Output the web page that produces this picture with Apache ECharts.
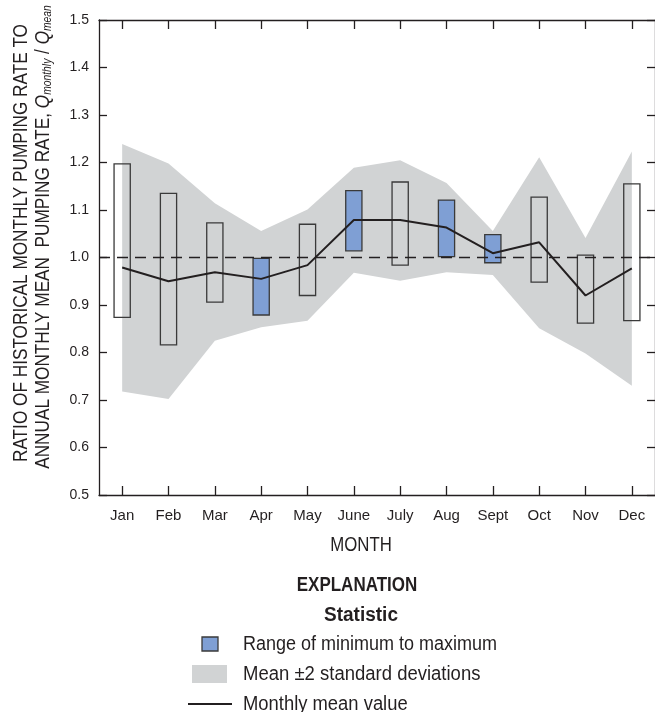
<!DOCTYPE html>
<html>
<head>
<meta charset="utf-8">
<script src="https://cdn.jsdelivr.net/npm/echarts@6/dist/echarts.min.js"></script>
<style>
  html, body { margin: 0; padding: 0; background: #ffffff; }
  #chart { width: 655px; height: 712px; }
</style>
</head>
<body>
<div id="chart"></div>
<script>
// Monthly pumping-rate ratios, Q_monthly / Q_mean
const months = ['Jan', 'Feb', 'Mar', 'Apr', 'May', 'June', 'July', 'Aug', 'Sept', 'Oct', 'Nov', 'Dec'];
const meanValue = [0.979, 0.950, 0.969, 0.955, 0.984, 1.079, 1.079, 1.063, 1.009, 1.032, 0.920, 0.977];
const sdUpper = [1.239, 1.198, 1.114, 1.056, 1.101, 1.189, 1.205, 1.157, 1.056, 1.211, 1.041, 1.223];
const sdLower = [0.718, 0.702, 0.825, 0.853, 0.867, 0.968, 0.951, 0.969, 0.963, 0.851, 0.798, 0.730];
const rangeMax = [1.197, 1.135, 1.073, 0.998, 1.070, 1.141, 1.159, 1.121, 1.048, 1.127, 1.005, 1.155];
const rangeMin = [0.874, 0.816, 0.906, 0.879, 0.920, 1.014, 0.984, 1.002, 0.989, 0.948, 0.862, 0.867];
const shadedMonths = ['Apr', 'June', 'Aug', 'Sept'];
const referenceRatio = 1.0;

const INK = '#231f20';
const BOX_EDGE = '#3a3a3a';
const BLUE = '#7f9fd4';
const GRAY = '#d1d3d4';
const FONT = 'Liberation Sans, Arial, sans-serif';

const chart = echarts.init(document.getElementById('chart'), null, { renderer: 'canvas' });

const bandWidth = sdUpper.map((u, i) => u - sdLower[i]);
const boxData = months.map((m, i) => [i, rangeMin[i], rangeMax[i], shadedMonths.includes(m) ? 1 : 0]);

const axisLineStyle = { color: INK, width: 1.3 };
const tickStyle = { color: INK, width: 1.3 };

// condensed-looking text: horizontally squeezed graphic text
function label(text, x, y, opts) {
  return Object.assign({
    type: 'text', x: x, y: y, scaleX: 0.9,
    style: Object.assign({
      text: text, font: '20px ' + FONT, fill: INK, align: 'left', verticalAlign: 'middle'
    }, opts && opts.style)
  }, opts && opts.el);
}

const option = {
  animation: false,
  backgroundColor: '#ffffff',
  grid: { left: 99, top: 20, width: 556, height: 475, containLabel: false },
  xAxis: [
    {
      type: 'category', data: months, position: 'bottom', boundaryGap: true,
      axisLine: { show: true, lineStyle: axisLineStyle },
      axisTick: { show: true, alignWithLabel: true, inside: true, length: 9, lineStyle: tickStyle },
      axisLabel: { color: INK, fontSize: 15, fontFamily: FONT, margin: 13 },
      splitLine: { show: false }
    },
    {
      type: 'category', data: months, position: 'top', boundaryGap: true,
      axisLine: { show: true, lineStyle: axisLineStyle },
      axisTick: { show: true, alignWithLabel: true, inside: true, length: 9, lineStyle: tickStyle },
      axisLabel: { show: false },
      splitLine: { show: false }
    }
  ],
  yAxis: [
    {
      type: 'value', position: 'left', min: 0.5, max: 1.5, interval: 0.1,
      axisLine: { show: true, lineStyle: axisLineStyle },
      axisTick: { show: true, inside: true, length: 8, lineStyle: tickStyle },
      axisLabel: { color: INK, fontSize: 14, fontFamily: FONT, margin: 10, formatter: v => v.toFixed(1) },
      splitLine: { show: false }
    },
    {
      type: 'value', position: 'right', min: 0.5, max: 1.5, interval: 0.1,
      axisLine: { show: true, lineStyle: axisLineStyle },
      axisTick: { show: true, inside: true, length: 8, lineStyle: tickStyle },
      axisLabel: { show: false },
      splitLine: { show: false }
    }
  ],
  series: [
    {
      name: 'sd-lower', type: 'line', stack: 'sd', data: sdLower,
      symbol: 'none', lineStyle: { opacity: 0 }, silent: true, z: 1
    },
    {
      name: 'Mean ±2 standard deviations', type: 'line', stack: 'sd', data: bandWidth,
      symbol: 'none', lineStyle: { width: 0, opacity: 0 },
      areaStyle: { color: GRAY, opacity: 1 }, silent: true, z: 1,
      markLine: {
        silent: true, symbol: 'none', label: { show: false },
        lineStyle: { color: INK, type: [11, 7], width: 1.3 },
        data: [{ yAxis: referenceRatio }]
      }
    },
    {
      name: 'Range of minimum to maximum', type: 'custom', data: boxData,
      encode: { x: 0, y: [1, 2] }, z: 3,
      renderItem: function (params, api) {
        const i = api.value(0);
        const top = api.coord([i, api.value(2)]);
        const bot = api.coord([i, api.value(1)]);
        const w = api.size([1, 0])[0] * 0.35;
        return {
          type: 'rect',
          shape: { x: top[0] - w / 2, y: top[1], width: w, height: bot[1] - top[1] },
          style: { fill: api.value(3) === 1 ? BLUE : 'none', stroke: BOX_EDGE, lineWidth: 1.3 }
        };
      }
    },
    {
      name: 'Monthly mean value', type: 'line', data: meanValue,
      symbol: 'none', lineStyle: { color: INK, width: 2 }, z: 4
    }
  ],
  graphic: [
    // y-axis title, two rotated lines
    label('RATIO OF HISTORICAL MONTHLY PUMPING RATE TO', 21, 243, {
      el: { rotation: Math.PI / 2, scaleX: 0.86 },
      style: { align: 'center' }
    }),
    {
      type: 'text', x: 43, y: 237, rotation: Math.PI / 2, scaleX: 0.86,
      style: {
        text: '{n|ANNUAL MONTHLY MEAN  PUMPING RATE, }{q|Q}{s|monthly}{n| / }{q|Q}{s|mean}',
        align: 'center', verticalAlign: 'middle', fill: INK,
        rich: {
          n: { fontSize: 20, fontFamily: FONT, fill: INK, lineHeight: 22 },
          q: { fontSize: 20, fontFamily: FONT, fontStyle: 'italic', fill: INK, lineHeight: 22 },
          s: { fontSize: 12, fontFamily: FONT, fontStyle: 'italic', fill: INK, lineHeight: 22, verticalAlign: 'bottom' }
        }
      }
    },
    // x-axis title
    label('MONTH', 361, 545, { el: { scaleX: 0.84 }, style: { align: 'center' } }),
    // explanation block
    label('EXPLANATION', 357, 585, { el: { scaleX: 0.85 }, style: { align: 'center', font: 'bold 20px ' + FONT } }),
    label('Statistic', 361, 615, { el: { scaleX: 0.95 }, style: { align: 'center', font: 'bold 20px ' + FONT } }),
    {
      type: 'rect', shape: { x: 202, y: 637, width: 16, height: 14 },
      style: { fill: BLUE, stroke: BOX_EDGE, lineWidth: 1.3 }
    },
    label('Range of minimum to maximum', 243, 644),
    {
      type: 'rect', shape: { x: 192, y: 665, width: 35, height: 18 },
      style: { fill: GRAY }
    },
    label('Mean ±2 standard deviations', 243, 674, { el: { scaleX: 0.925 } }),
    {
      type: 'line', shape: { x1: 188, y1: 704, x2: 232, y2: 704 },
      style: { stroke: INK, lineWidth: 2 }
    },
    label('Monthly mean value', 243, 704, { el: { scaleX: 0.92 } })
  ]
};

chart.setOption(option);
</script>
</body>
</html>
